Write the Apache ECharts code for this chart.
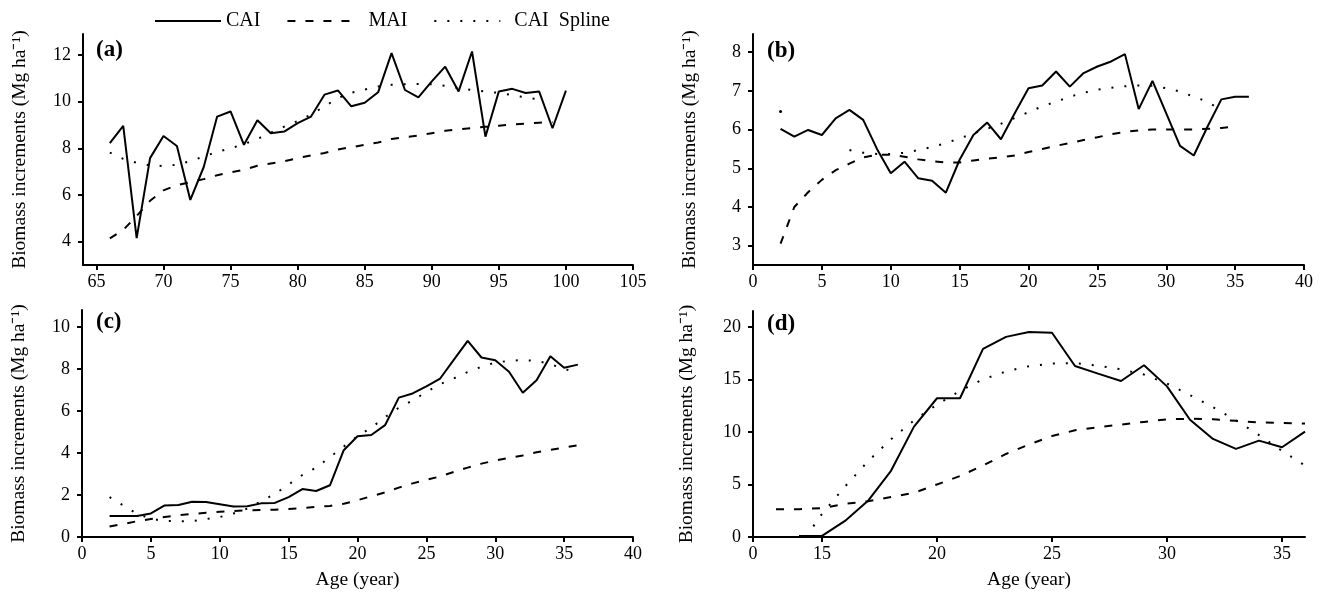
<!DOCTYPE html>
<html>
<head>
<meta charset="utf-8">
<title>Biomass increments</title>
<script src="https://cdn.jsdelivr.net/npm/echarts@6/dist/echarts.min.js"></script>
<style>
html,body{margin:0;padding:0;background:#fff}
#chart{width:1322px;height:594px}
</style>
</head>
<body>
<div id="chart"></div>
<script>
// ---- data ----
// (a)
var yearsA  = [66,67,68,69,70,71,72,73,74,75,76,77,78,79,80,81,82,83,84,85,86,87,88,89,90,91,92,93,94,95,96,97,98,99,100];
var caiA    = [8.22,8.96,4.15,7.58,8.53,8.1,5.79,7.2,9.36,9.58,8.15,9.2,8.65,8.72,9.08,9.36,10.3,10.48,9.8,9.95,10.4,12.08,10.5,10.18,10.87,11.5,10.44,12.15,8.5,10.44,10.55,10.37,10.44,8.86,10.47];
var maiA    = [4.14,4.5,5.1,5.75,6.2,6.42,6.55,6.68,6.85,6.97,7.08,7.25,7.35,7.45,7.58,7.7,7.8,7.95,8.05,8.15,8.25,8.4,8.48,8.55,8.65,8.75,8.82,8.87,8.92,8.97,9.02,9.06,9.1,9.12];
var splineA = [7.82,7.55,7.38,7.27,7.24,7.3,7.45,7.65,7.85,8.0,8.18,8.4,8.67,8.93,9.17,9.45,9.8,10.15,10.38,10.52,10.65,10.72,10.75,10.76,10.75,10.68,10.58,10.5,10.43,10.38,10.28,10.18,10.1];
// (b) and (c) share the same ages
var yearsBC = [2,3,4,5,6,7,8,9,10,11,12,13,14,15,16,17,18,19,20,21,22,23,24,25,26,27,28,29,30,31,32,33,34,35,36];
var caiB    = [6.02,5.82,5.99,5.86,6.29,6.51,6.25,5.5,4.87,5.17,4.74,4.68,4.37,5.22,5.86,6.18,5.75,6.42,7.07,7.14,7.5,7.11,7.46,7.63,7.76,7.95,6.53,7.26,6.42,5.58,5.33,6.08,6.78,6.85,6.85];
var maiB    = [3.05,4.0,4.38,4.7,4.95,5.12,5.28,5.35,5.35,5.3,5.23,5.18,5.15,5.15,5.2,5.25,5.28,5.33,5.42,5.5,5.58,5.65,5.73,5.8,5.88,5.94,5.98,6.0,6.0,6.0,6.0,6.02,6.04,6.08];
var splineB = [6.47,null,null,null,null,5.47,5.4,5.37,5.37,5.4,5.47,5.55,5.65,5.77,5.9,6.02,6.15,6.3,6.45,6.6,6.72,6.85,6.95,7.03,7.08,7.12,7.14,7.13,7.07,6.98,6.85,6.72,6.5];
var caiC    = [1.0,1.0,1.0,1.12,1.5,1.52,1.68,1.67,1.56,1.45,1.46,1.6,1.62,1.9,2.28,2.19,2.46,4.13,4.79,4.85,5.32,6.63,6.83,7.17,7.54,8.44,9.33,8.54,8.41,7.86,6.86,7.46,8.6,8.05,8.2];
var maiC    = [0.5,0.62,0.75,0.86,0.95,1.03,1.1,1.15,1.2,1.24,1.27,1.28,1.3,1.33,1.38,1.43,1.48,1.58,1.75,1.94,2.12,2.35,2.55,2.72,2.88,3.1,3.3,3.49,3.64,3.77,3.88,4.03,4.15,4.25,4.37];
var splineC = [1.9,1.5,1.1,0.87,0.76,0.75,0.75,0.85,0.95,1.12,1.35,1.7,2.05,2.5,2.95,3.3,3.8,4.3,4.8,5.2,5.7,6.15,6.5,6.9,7.27,7.55,7.85,8.1,8.3,8.38,8.42,8.38,8.22,8.0,7.8];
// (d)
var yearsD  = [13,14,15,16,17,18,19,20,21,22,23,24,25,26,27,28,29,30,31,32,33,34,35,36];
var caiD    = [null,0.1,0.1,1.53,3.44,6.3,10.5,13.2,13.2,17.9,19.04,19.5,19.43,16.27,15.54,14.84,16.34,14.33,11.15,9.33,8.38,9.17,8.54,10.03];
var maiD    = [2.65,2.65,2.75,3.15,3.4,3.8,4.2,5.0,5.8,6.8,7.9,8.8,9.6,10.15,10.45,10.7,10.95,11.2,11.25,11.2,11.05,10.9,10.85,10.8];
var splineYearsD = [14.3,15,16,17,18,19,20,21,22,23,24,25,26,27,28,29,30,31,32,33,34,35,36];
var splineD = [0,2.2,4.8,7.2,9.3,11.1,12.6,13.9,15.0,15.75,16.25,16.5,16.55,16.3,15.95,15.45,14.6,13.5,12.35,11.1,9.7,8.2,6.8];

// tick labels
var xTicksA = [65,70,75,80,85,90,95,100,105];
var xTicksBC = [0,5,10,15,20,25,30,35,40];
var xTicksD = [12,15,20,25,30,35];   // first one is printed as "0" (broken axis)
var yTicksA = [4,6,8,10,12];
var yTicksB = [3,4,5,6,7,8];
var yTicksC = [0,2,4,6,8,10];
var yTicksD = [0,5,10,15,20];

var FONT = 'Liberation Serif';
var Y_NAME = 'Biomass increments (Mg ha\u207B\u00B9)';

function pts(xs, ys) {
	var out = [];
	for (var i = 0; i < xs.length; i++) {
		out.push([xs[i], ys[i] == null ? '-' : ys[i]]);
	}
	return out;
}

function xAxis(i, min, max, ticks, withName) {
	return {
		type: 'value', gridIndex: i, min: min, max: max,
		name: withName ? 'Age (year)' : '', nameLocation: 'middle', nameGap: 33,
		nameTextStyle: {fontFamily: FONT, fontSize: 19.5, color: '#000'},
		axisLine: {show: true, onZero: false, lineStyle: {color: '#000', width: 2}},
		axisTick: {show: true, inside: false, length: 5, customValues: ticks, lineStyle: {color: '#000', width: 2}},
		axisLabel: {show: true, customValues: ticks, margin: 8, color: '#000', fontFamily: FONT, fontSize: 18,
			formatter: function (v) { return (i === 3 && v === 12) ? '0' : String(v); }},
		splitLine: {show: false}
	};
}

function yAxis(i, min, max, ticks, gap) {
	return {
		type: 'value', gridIndex: i, min: min, max: max,
		name: Y_NAME, nameLocation: 'middle', nameGap: gap, nameRotate: 90,
		nameTextStyle: {fontFamily: FONT, fontSize: 19.5, color: '#000'},
		axisLine: {show: true, onZero: false, lineStyle: {color: '#000', width: 2}},
		axisTick: {show: true, inside: false, length: 5, customValues: ticks, lineStyle: {color: '#000', width: 2}},
		axisLabel: {show: true, customValues: ticks, margin: 12, color: '#000', fontFamily: FONT, fontSize: 18},
		splitLine: {show: false}
	};
}

function line(name, i, data, dash, width) {
	return {
		name: name, type: 'line', xAxisIndex: i, yAxisIndex: i,
		data: data, symbol: 'none', showSymbol: true, silent: true,
		itemStyle: {color: '#000'},
		lineStyle: {color: '#000', width: width, type: dash, cap: 'butt'}
	};
}

var SOLID = 'solid', DASH = [8, 10], DOT = [2, 11];

// (b) spline starts with a lone point at age 2
var splineBData = pts(yearsBC, splineB);
splineBData[0] = {value: splineBData[0], symbol: 'circle', symbolSize: 3};

var chart = echarts.init(document.getElementById('chart'), null, {renderer: 'canvas'});
var option = {
	animation: false,
	backgroundColor: '#fff',
	textStyle: {fontFamily: FONT},
	legend: {
		top: 6, left: 149, itemWidth: 66, itemHeight: 14, itemGap: 26, selectedMode: false,
		data: [
			{name: 'CAI'},
			{name: 'MAI', textStyle: {padding: [0, 0, 0, 10]}},
			{name: 'CAI  Spline', textStyle: {padding: [0, 0, 0, 9]}}
		],
		itemStyle: {opacity: 0},
		lineStyle: {opacity: 1},
		textStyle: {fontFamily: FONT, fontSize: 20, color: '#000'}
	},
	title: [
		{text: '(a)', left: 96, top: 39},
		{text: '(b)', left: 767, top: 40},
		{text: '(c)', left: 96, top: 311},
		{text: '(d)', left: 767, top: 313}
	].map(function (t) {
		t.textStyle = {fontFamily: FONT, fontSize: 23, fontWeight: 'bold', color: '#000'};
		t.padding = 0;
		return t;
	}),
	grid: [
		{left: 83, top: 34, width: 550, height: 231},
		{left: 753, top: 34, width: 551, height: 231},
		{left: 82, top: 310, width: 551, height: 227},
		{left: 753, top: 311, width: 552, height: 226}
	],
	xAxis: [
		xAxis(0, 64, 105, xTicksA, false),
		xAxis(1, 0, 40, xTicksBC, false),
		xAxis(2, 0, 40, xTicksBC, true),
		xAxis(3, 12, 36, xTicksD, true)
	],
	yAxis: [
		yAxis(0, 3, 12.9, yTicksA, 53),
		yAxis(1, 2.5, 8.47, yTicksB, 53),
		yAxis(2, 0, 10.8, yTicksC, 53),
		yAxis(3, 0, 21.5, yTicksD, 56)
	],
	series: [
		line('CAI', 0, pts(yearsA, caiA), SOLID, 2),
		line('MAI', 0, pts(yearsA, maiA), DASH, 2),
		line('CAI  Spline', 0, pts(yearsA, splineA), DOT, 2),
		line('CAI', 1, pts(yearsBC, caiB), SOLID, 2),
		line('MAI', 1, pts(yearsBC, maiB), DASH, 2),
		line('CAI  Spline', 1, splineBData, DOT, 2),
		line('CAI', 2, pts(yearsBC, caiC), SOLID, 2),
		line('MAI', 2, pts(yearsBC, maiC), DASH, 2),
		line('CAI  Spline', 2, pts(yearsBC, splineC), DOT, 2),
		line('CAI', 3, pts(yearsD, caiD), SOLID, 2),
		line('MAI', 3, pts(yearsD, maiD), DASH, 2),
		line('CAI  Spline', 3, pts(splineYearsD, splineD), DOT, 2)
	]
};
chart.setOption(option);
</script>
</body>
</html>
